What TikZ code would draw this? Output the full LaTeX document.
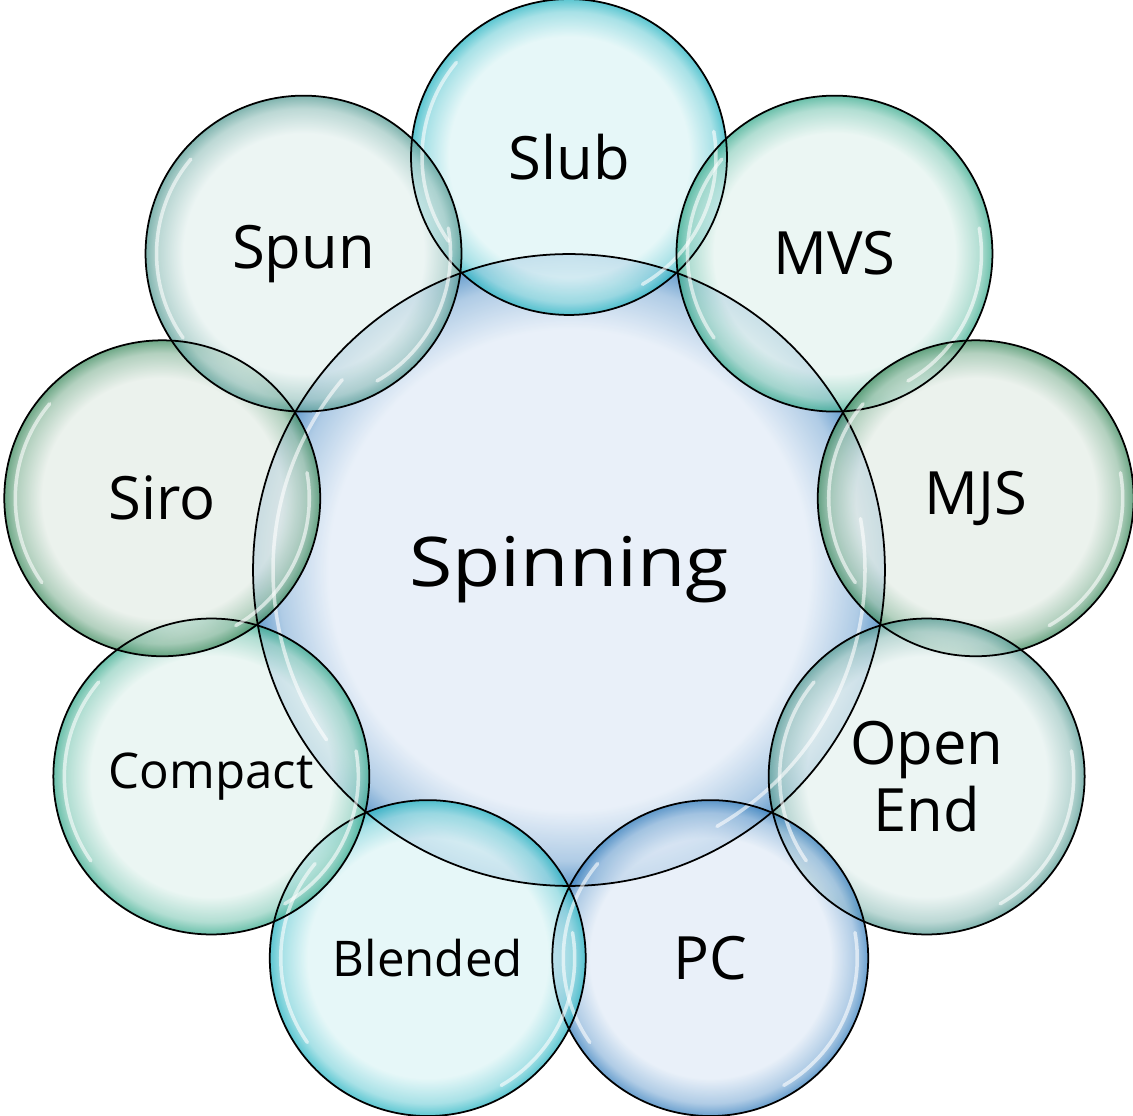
\documentclass[tikz,border=0pt]{standalone}
\usepackage{fontspec}
\setmainfont{Open Sans}
\newfontfamily\spinfont{Open Sans}[FakeStretch=1.15]

\definecolor{bluepale}{HTML}{E3ECF7}
\definecolor{blueedge}{HTML}{3F84C0}
\definecolor{cyanpale}{HTML}{DFF5F6}
\definecolor{cyanedge}{HTML}{2DB6C4}
\definecolor{tealpale}{HTML}{E6F4F0}
\definecolor{tealedge}{HTML}{40AE92}
\definecolor{greenpale}{HTML}{E6EEE8}
\definecolor{greenedge}{HTML}{448F64}
\definecolor{greypale}{HTML}{E7F2F0}
\definecolor{greyedge}{HTML}{5C9F98}

\colorlet{bubin}{bluepale}
\colorlet{bubout}{blueedge}
\pgfdeclareradialshading[bubin,bubout]{bubble}{\pgfpoint{0bp}{0bp}}{%
  color(0bp)=(bubin); color(19bp)=(bubin); color(23bp)=(bubout!45!bubin);
  color(25bp)=(bubout); color(50bp)=(bubout)}

\begin{document}
\begin{tikzpicture}[x=0.02cm,y=0.02cm,
    film/.style={shading=bubble, fill opacity=0.78},
    bubble/.style={circle, draw=black, line width=1pt, inner sep=0pt, align=center},
    big/.style={bubble, minimum size=12.64cm, font=\spinfont\fontsize{39}{44}\selectfont},
    small/.style={bubble, minimum size=6.32cm, font=\fontsize{34}{38}\selectfont},
    gloss/.style={white, line width=2pt, line cap=round, opacity=0.6}]
    \useasboundingbox (-569,-546) rectangle (564,570);

    % fills first, so every rim stays visible
    \colorlet{bubin}{bluepale}\colorlet{bubout}{blueedge}
    \path[film] (0,0) circle[radius=316];
    \foreach \ang/\pale/\edge in {90/cyanpale/cyanedge, 50/tealpale/tealedge,
        10/greenpale/greenedge, -30/greypale/greyedge, -70/bluepale/blueedge,
        -110/cyanpale/cyanedge, -150/tealpale/tealedge, 170/greenpale/greenedge,
        130/greypale/greyedge}
    {
        \colorlet{bubin}{\pale}\colorlet{bubout}{\edge}
        \path[film] (\ang:413) circle[radius=158];
    }

    % centre bubble
    \node[big] (spin) at (0,0) {Spinning};
    \draw[gloss] (spin.center) ++(140:296) arc[start angle=140, end angle=215, radius=296];
    \draw[gloss] (spin.center) ++(-60:296) arc[start angle=-60, end angle=10, radius=296];

    % ring of nine
    \foreach \ang/\nm/\txt in {90/slub/Slub, 50/mvs/MVS, 10/mjs/MJS,
        -30/oe/{Open\\End}, -70/pc/PC,
        -110/blend/{\fontsize{28}{32}\selectfont Blended},
        -150/comp/{\fontsize{28}{32}\selectfont Compact},
        170/siro/Siro, 130/spun/Spun}
    {
        \node[small] (\nm) at (\ang:413) {\txt};
        \draw[gloss] (\nm.center) ++(140:147) arc[start angle=140, end angle=215, radius=147];
        \draw[gloss] (\nm.center) ++(-60:147) arc[start angle=-60, end angle=10, radius=147];
    }
\end{tikzpicture}
\end{document}
